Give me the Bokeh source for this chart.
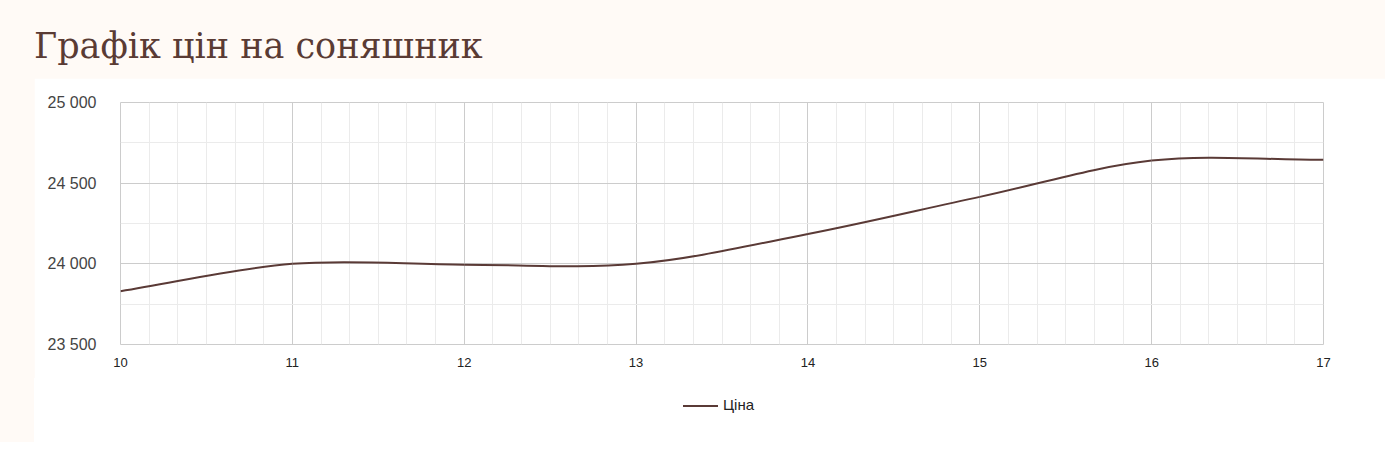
from bokeh.plotting import figure
from bokeh.models import (Div, FixedTicker, CustomJSTickFormatter, Range1d)
from bokeh.layouts import column
from bokeh.embed import file_html
from bokeh.resources import INLINE

# Data
days = [10, 11, 12, 13, 14, 15, 16, 17]
prices = [23830, 24000, 23995, 24000, 24185, 24415, 24640, 24645]
series_name = "Ціна"
title_text = "Графік цін на соняшник"
y_ticks = [23500, 24000, 24500, 25000]
x_ticks = days

LINE_COLOR = "#5a3a36"
BG = "#fffaf6"

# smooth curve (Catmull-Rom -> cubic Bezier) through the data points
n = len(days)
x0, y0, x1, y1, cx0, cy0, cx1, cy1 = [], [], [], [], [], [], [], []
def tangent(i):
    if i == 0:
        return (prices[1] - prices[0]) / (days[1] - days[0])
    if i == n - 1:
        return (prices[-1] - prices[-2]) / (days[-1] - days[-2])
    return (prices[i + 1] - prices[i - 1]) / (days[i + 1] - days[i - 1])
for i in range(n - 1):
    h = days[i + 1] - days[i]
    m0 = tangent(i)
    m1 = tangent(i + 1)
    x0.append(days[i]); y0.append(prices[i])
    x1.append(days[i + 1]); y1.append(prices[i + 1])
    cx0.append(days[i] + h / 3); cy0.append(prices[i] + m0 * h / 3)
    cx1.append(days[i + 1] - h / 3); cy1.append(prices[i + 1] - m1 * h / 3)

title = Div(text=title_text, width=1351, height=78,
            margin=(0, 0, 0, 34),
            styles={"font-family": "DejaVu Serif", "font-size": "35px",
                    "color": "#5a3b34", "line-height": "1", "padding-top": "29px"})

p = figure(width=1351, height=300, output_backend="svg", toolbar_location=None,
           x_range=Range1d(10, 17), y_range=Range1d(23500, 25000),
           min_border_left=86, min_border_right=62, min_border_top=24, min_border_bottom=34,
           background_fill_color="white", border_fill_color="white",
           outline_line_color="#cccccc", margin=(0, 0, 0, 34))

minor_x = [d + k / 6 for d in days[:-1] for k in range(1, 6)]
p.xaxis.ticker = FixedTicker(ticks=x_ticks, minor_ticks=minor_x)
p.yaxis.ticker = FixedTicker(ticks=y_ticks, minor_ticks=[23750, 24250, 24750])
p.yaxis.formatter = CustomJSTickFormatter(
    code="return Math.round(tick).toString().replace(/\\B(?=(\\d{3})+(?!\\d))/g, ' ');")

for ax in (p.xaxis[0], p.yaxis[0]):
    ax.axis_line_color = None
    ax.major_tick_line_color = None
    ax.minor_tick_line_color = None
    ax.major_label_text_font = "Liberation Sans"
p.xaxis.major_label_text_font_size = "13px"
p.xaxis.major_label_text_color = "#222222"
p.xaxis.major_label_standoff = 7
p.yaxis.major_label_text_font_size = "16px"
p.yaxis.major_label_text_color = "#444444"
p.yaxis.major_label_standoff = 18

p.xgrid.grid_line_color = "#cccccc"
p.ygrid.grid_line_color = "#cccccc"
p.xgrid.minor_grid_line_color = "#ebebeb"
p.ygrid.minor_grid_line_color = "#ebebeb"

p.bezier(x0=x0, y0=y0, x1=x1, y1=y1, cx0=cx0, cy0=cy0, cx1=cx1, cy1=cy1,
         line_color=LINE_COLOR, line_width=2)

legend_html = (
    '<div style="padding:18px 0 0 649px; line-height:18px; font-family:\'Liberation Sans\';'
    ' font-size:15px; color:#222222; white-space:nowrap;">'
    '<span style="display:inline-block; width:35px; height:2px; background:%s;'
    ' vertical-align:middle; margin-right:5px;"></span>%s</div>' % (LINE_COLOR, series_name)
)
legend_div = Div(text=legend_html, width=1351, height=64, margin=(0, 0, 0, 34),
                 styles={"background-color": "white"})

layout = column(title, p, legend_div, styles={"background-color": BG})

html = file_html(layout, INLINE)
html = html.replace("<body>", '<body style="background-color:%s">' % BG, 1)
open("out.html", "w").write(html)
